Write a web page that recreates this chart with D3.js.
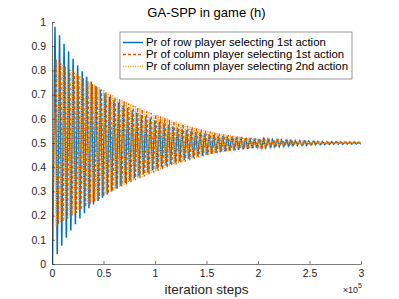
<!DOCTYPE html>
<html>
<head>
<meta charset="utf-8">
<script src="https://cdn.jsdelivr.net/npm/d3@7"></script>
<style>
  body { margin: 0; background: #fff; }
  svg { display: block; font-family: "Liberation Sans", Arial, sans-serif; }
  .axis path, .axis line { stroke: #262626; stroke-width: 0.6; }
  .axis text { fill: #262626; font-size: 10.5px; }
</style>
</head>
<body>
<div id="chart"></div>
<script>
// iteration step of every peak of the row player's oscillation
var peakSteps = [2900,7300,11700,16100,20500,24900,29300,33700,38100,42500,46900,51300,55700,60100,64500,68900,73300,77700,82100,86500,90900,95300,99700,104100,108500,112900,117300,121700,126100,130500,134900,139300,143700,148100,152500,156900,161300,165700,170100,174500,178900,183300,187700,192100,196500,200900,205300,209700,214100,218500,222900,227300,231700,236100,240500,244900,249300,253700,258100,262500,266900,271300,275700,280100,284500,288900,293300,297700];
var halfPeriod = 2200;
var lastStep = 300000;

// Pr of row player selecting 1st action
var rowStart = 0.0;
var rowPeaks = [0.98,0.945,0.91,0.878,0.848,0.82,0.796,0.774,0.754,0.736,0.72,0.705,0.691,0.678,0.666,0.655,0.645,0.635,0.626,0.617,0.609,0.601,0.594,0.587,0.581,0.575,0.569,0.564,0.559,0.554,0.55,0.546,0.542,0.539,0.536,0.533,0.531,0.529,0.527,0.525,0.523,0.522,0.52,0.519,0.518,0.517,0.516,0.515,0.514,0.513,0.512,0.511,0.51,0.509,0.509,0.508,0.507,0.507,0.506,0.506,0.505,0.505,0.505,0.504,0.504,0.504,0.504,0.503];
var rowTroughs = [0.04,0.075,0.108,0.138,0.164,0.188,0.21,0.23,0.246,0.26,0.274,0.287,0.3,0.312,0.323,0.334,0.344,0.353,0.362,0.37,0.378,0.386,0.393,0.4,0.407,0.413,0.419,0.425,0.43,0.435,0.44,0.444,0.448,0.452,0.456,0.459,0.462,0.465,0.468,0.47,0.472,0.474,0.476,0.478,0.48,0.481,0.482,0.484,0.485,0.486,0.487,0.488,0.489,0.49,0.491,0.491,0.492,0.493,0.493,0.494,0.494,0.495,0.495,0.495,0.496,0.496,0.496,0.497];

// Pr of column player selecting 1st action
var col1Start = 0.1;
var col1Peaks = [0.845,0.83,0.817,0.804,0.791,0.779,0.767,0.755,0.743,0.732,0.721,0.71,0.7,0.69,0.681,0.672,0.663,0.655,0.647,0.639,0.631,0.624,0.617,0.61,0.603,0.596,0.59,0.584,0.578,0.572,0.566,0.561,0.556,0.551,0.547,0.543,0.539,0.536,0.533,0.53,0.527,0.525,0.523,0.521,0.519,0.517,0.516,0.514,0.513,0.512,0.511,0.51,0.509,0.508,0.508,0.507,0.506,0.506,0.505,0.505,0.504,0.504,0.504,0.503,0.503,0.503,0.503,0.502];
var col1Troughs = [0.165,0.175,0.187,0.199,0.211,0.223,0.235,0.247,0.258,0.269,0.28,0.291,0.301,0.311,0.32,0.329,0.338,0.346,0.354,0.362,0.37,0.377,0.384,0.391,0.398,0.405,0.411,0.417,0.423,0.429,0.435,0.44,0.445,0.45,0.454,0.458,0.462,0.465,0.468,0.471,0.474,0.476,0.478,0.48,0.482,0.484,0.485,0.487,0.488,0.489,0.49,0.491,0.492,0.493,0.493,0.494,0.495,0.495,0.496,0.496,0.497,0.497,0.497,0.498,0.498,0.498,0.498,0.499];

// Pr of column player selecting 2nd action
var col2Start = 0.9;
var col2Troughs = [0.155,0.17,0.183,0.196,0.209,0.221,0.233,0.245,0.257,0.268,0.279,0.29,0.3,0.31,0.319,0.328,0.337,0.345,0.353,0.361,0.369,0.376,0.383,0.39,0.397,0.404,0.41,0.416,0.422,0.428,0.434,0.439,0.444,0.449,0.453,0.457,0.461,0.464,0.467,0.47,0.473,0.475,0.477,0.479,0.481,0.483,0.484,0.486,0.487,0.488,0.489,0.49,0.491,0.492,0.492,0.493,0.494,0.494,0.495,0.495,0.496,0.496,0.496,0.497,0.497,0.497,0.497,0.498];
var col2Peaks = [0.835,0.825,0.813,0.801,0.789,0.777,0.765,0.753,0.742,0.731,0.72,0.709,0.699,0.689,0.68,0.671,0.662,0.654,0.646,0.638,0.63,0.623,0.616,0.609,0.602,0.595,0.589,0.583,0.577,0.571,0.565,0.56,0.555,0.55,0.546,0.542,0.538,0.535,0.532,0.529,0.526,0.524,0.522,0.52,0.518,0.516,0.515,0.513,0.512,0.511,0.51,0.509,0.508,0.507,0.507,0.506,0.505,0.505,0.504,0.504,0.503,0.503,0.503,0.502,0.502,0.502,0.502,0.501];

var xTicks = [0,50000,100000,150000,200000,250000,300000];
var xTickLabels = ["0","0.5","1","1.5","2","2.5","3"];
var yTicks = [0,0.1,0.2,0.3,0.4,0.5,0.6,0.7,0.8,0.9,1];
var legendLabels = ["Pr of row player selecting 1st action",
                    "Pr of column player selecting 1st action",
                    "Pr of column player selecting 2nd action"];

var W = 399, H = 299;
var margin = {top: 22, right: 38, bottom: 35, left: 52};
var width = W - margin.left - margin.right, height = H - margin.top - margin.bottom;

var svg = d3.select("#chart").append("svg")
    .attr("width", W)
    .attr("height", H);

var g = svg.append("g")
    .attr("transform", "translate(" + margin.left + "," + margin.top + ")");

var x = d3.scaleLinear().domain([0, lastStep]).range([0, width]);
var y = d3.scaleLinear().domain([0, 1]).range([height, 0]);

// build the point list of a series from its peaks and troughs
function series(start, highs, lows, highShift, lowShift) {
    var pts = [{t: 0, v: start}];
    var items = [];
    for (var k = 0; k < peakSteps.length; k++) {
        items.push({t: peakSteps[k] + highShift, v: highs[k]});
        items.push({t: peakSteps[k] + lowShift, v: lows[k]});
    }
    items.sort(function(a, b){ return a.t - b.t; });
    pts = pts.concat(items);
    pts.push({t: lastStep, v: 0.5});
    return pts;
}

var rowData = series(rowStart, rowPeaks, rowTroughs, 0, halfPeriod);
rowData[0].t = 500;
var col1Data = series(col1Start, col1Peaks, col1Troughs, halfPeriod / 2, halfPeriod * 1.5);
var col2Data = series(col2Start, col2Peaks, col2Troughs, halfPeriod * 1.5, halfPeriod / 2);

g.append("clipPath").attr("id", "clip")
  .append("rect").attr("x", 0).attr("y", -2).attr("width", width).attr("height", height + 2);

var line = d3.line()
    .x(function(d){ return x(d.t); })
    .y(function(d){ return y(d.v); });

var lines = [
    {data: rowData, color: "#0072BD", dash: null, w: 1.5},
    {data: col1Data, color: "#D95319", dash: "3,2", w: 1.4},
    {data: col2Data, color: "#EDB120", dash: "1.2,1.2", w: 1.4}
];

g.selectAll(".series")
    .data(lines)
    .enter().append("path")
    .attr("class", "series")
    .attr("clip-path", "url(#clip)")
    .attr("d", function(d){ return line(d.data); })
    .attr("fill", "none")
    .attr("stroke", function(d){ return d.color; })
    .attr("stroke-width", function(d){ return d.w; })
    .attr("stroke-dasharray", function(d){ return d.dash; });

// axes, MATLAB style: ticks inside, no box
var xAxis = d3.axisBottom(x)
    .tickValues(xTicks)
    .tickFormat(function(d, i){ return xTickLabels[i]; })
    .tickSizeInner(-3).tickSizeOuter(0).tickPadding(6);

var yAxis = d3.axisLeft(y)
    .tickValues(yTicks)
    .tickFormat(function(d){ return d3.format("")(d); })
    .tickSizeInner(-3).tickSizeOuter(0).tickPadding(6);

g.append("g").attr("class", "x axis")
    .attr("transform", "translate(0," + height + ")")
    .call(xAxis);

g.append("g").attr("class", "y axis")
    .call(yAxis);

// exponent label
var expo = g.append("text")
    .attr("x", width + 1)
    .attr("y", height + 29)
    .attr("text-anchor", "end")
    .attr("fill", "#262626")
    .attr("font-size", "9px");
expo.append("tspan").text("\u00d710");
expo.append("tspan").attr("dy", -5).attr("font-size", "7px").text("5");

// title and label
g.append("text")
    .attr("x", width / 2)
    .attr("y", -5)
    .attr("text-anchor", "middle")
    .attr("font-size", "13px")
    .attr("fill", "#000")
    .text("GA-SPP in game (h)");

g.append("text")
    .attr("x", width / 2)
    .attr("y", height + 30)
    .attr("text-anchor", "middle")
    .attr("font-size", "13.5px")
    .attr("fill", "#262626")
    .text("iteration steps");

// legend
var lg = svg.append("g").attr("transform", "translate(120,32)");
lg.append("rect")
    .attr("width", 232).attr("height", 47)
    .attr("fill", "#fff")
    .attr("stroke", "#555")
    .attr("stroke-width", 0.6);

var entries = lg.selectAll(".entry")
    .data(lines)
    .enter().append("g")
    .attr("class", "entry")
    .attr("transform", function(d, i){ return "translate(0," + (10.5 + i * 12) + ")"; });

entries.append("line")
    .attr("x1", 3).attr("x2", 23)
    .attr("stroke", function(d){ return d.color; })
    .attr("stroke-width", function(d){ return d.w; })
    .attr("stroke-dasharray", function(d){ return d.dash; });

entries.append("text")
    .attr("x", 26)
    .attr("y", 3.9)
    .attr("font-size", "11.4px")
    .attr("fill", "#000")
    .text(function(d, i){ return legendLabels[i]; });
</script>
</body>
</html>
